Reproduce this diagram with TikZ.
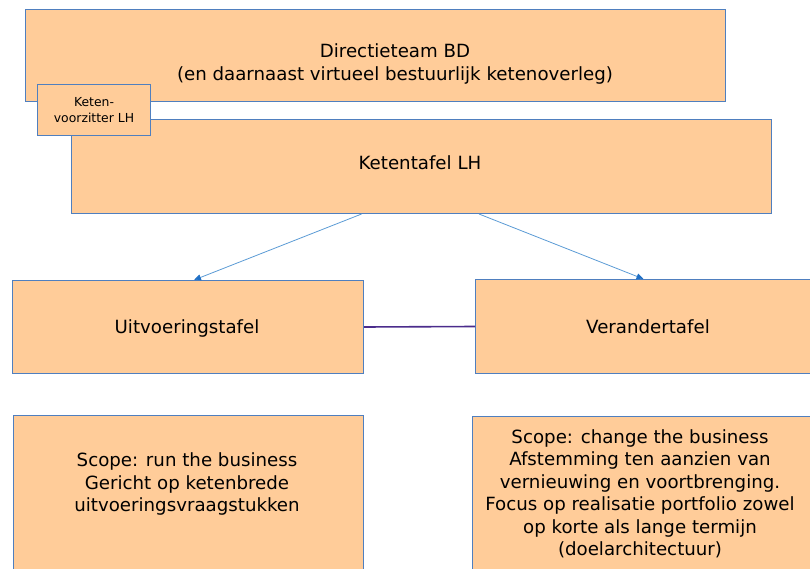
\documentclass[tikz,border=0pt]{standalone}
\usepackage{fontspec}
\setmainfont{DejaVu Sans}
\usetikzlibrary{calc,arrows.meta}
\definecolor{peach}{HTML}{FFCC99}
\definecolor{boxline}{HTML}{4F7FBF}
\definecolor{arrowblue}{HTML}{5B9BD5}
\definecolor{tipblue}{HTML}{1F6FC5}
\definecolor{linkpurple}{HTML}{4B2C8C}
\tikzset{
  box/.style={draw=boxline, line width=1pt, fill=peach, anchor=north west, inner sep=0pt},
  txt/.style={align=center, font=\fontsize{18.2}{22.5}\selectfont, text=black},
  smalltxt/.style={align=center, font=\fontsize{12.4}{16}\selectfont, text=black},
  downarrow/.style={draw=arrowblue, line width=0.8pt, -{Triangle[length=7pt,width=6pt,color=tipblue]}},
  link/.style={draw=linkpurple, line width=1.6pt}
}
\begin{document}
\begin{tikzpicture}[x=1pt,y=1pt]
\useasboundingbox (0,0) rectangle (810,-569);
% top box
\node[box, minimum width=700pt, minimum height=92pt] (dir) at (25,-9) {};
\node[txt] (dirtext) at (395,-64) {Directieteam BD\\(en daarnaast virtueel bestuurlijk ketenoverleg)};
% ketentafel
\node[box, minimum width=700pt, minimum height=94pt] (kt) at (71,-119) {};
\node[txt] (kttext) at (420,-163) {Ketentafel LH};
% keten-voorzitter
\node[box, minimum width=113pt, minimum height=51pt] (kv) at (37,-84) {};
\node[smalltxt] (kvtext) at (kv.center) {Keten-\\voorzitter LH};
% middle boxes
\node[box, minimum width=351pt, minimum height=93pt] (uit) at (12,-280) {};
\node[txt] (uittext) at (187,-328) {Uitvoeringstafel};
\node[box, minimum width=347pt, minimum height=94pt] (ver) at (475,-279) {};
\node[txt] (vertext) at (648,-327) {Verandertafel};
% bottom boxes
\node[box, minimum width=350pt, minimum height=180pt] (runb) at (13,-415) {};
\node[txt] (runtext) at (187,-484) {Scope: run the business\\Gericht op ketenbrede\\uitvoeringsvraagstukken};
\node[box, minimum width=350pt, minimum height=180pt] (chb) at (472,-416) {};
\node[txt] (chtext) at (640,-494) {Scope: change the business\\Afstemming ten aanzien van\\vernieuwing en voortbrenging.\\Focus op realisatie portfolio zowel\\op korte als lange termijn\\(doelarchitectuur)};
% connectors
\coordinate (a1) at ($(kt.south west)+(290.6,0)$);
\coordinate (a2) at ($(kt.south west)+(408,0)$);
\draw[downarrow] (a1) -- ($(uit.north)+(6,0)$);
\draw[downarrow] (a2) -- ($(ver.north)+(-5.5,0)$);
\draw[link] (uit.east) -- (ver.west);
\end{tikzpicture}
\end{document}
